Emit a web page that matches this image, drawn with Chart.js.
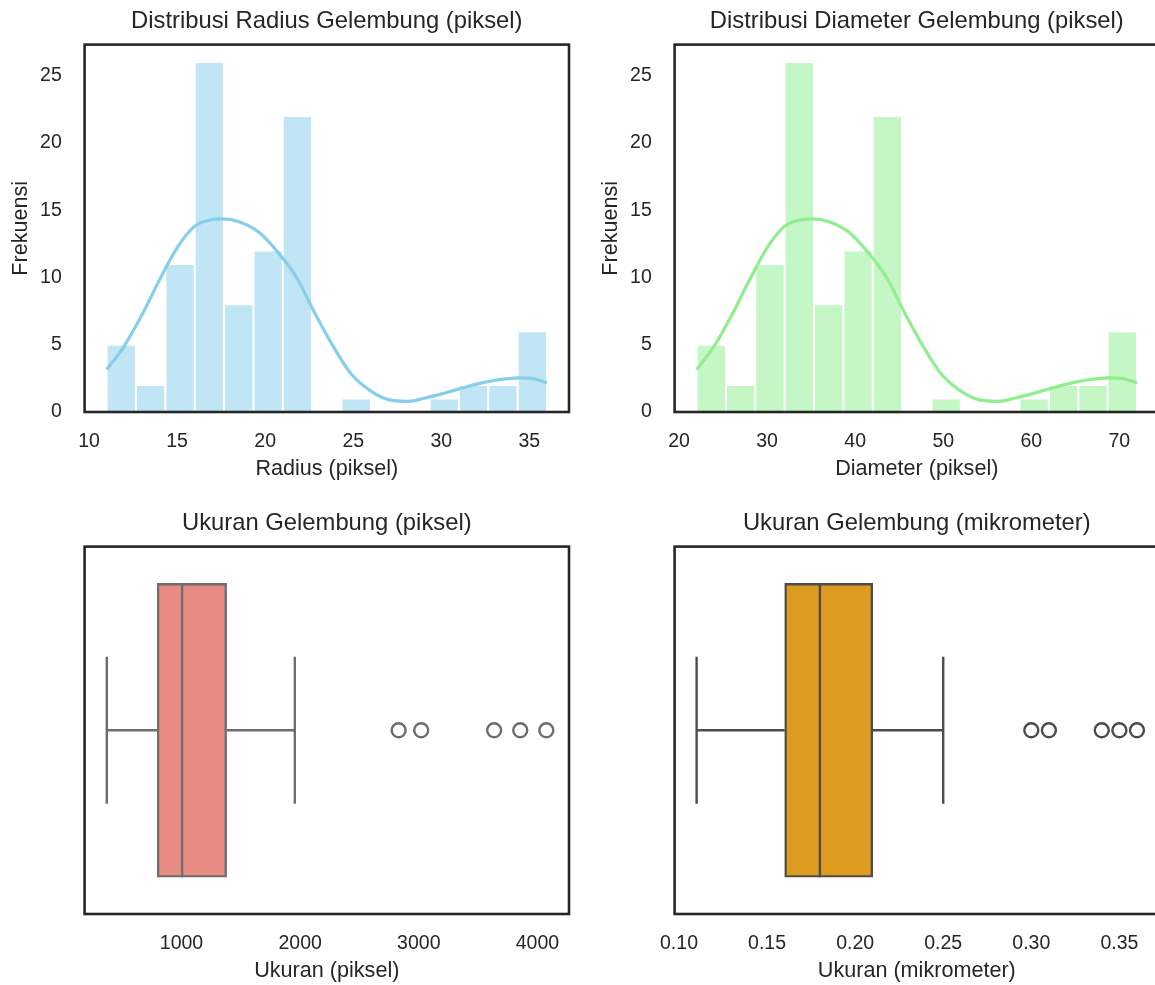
<!DOCTYPE html>
<html><head><meta charset="utf-8">
<script src="https://cdn.jsdelivr.net/npm/chart.js@4.4.1/dist/chart.umd.min.js"></script>
<style>
html,body{margin:0;padding:0;background:#fff;overflow:hidden;width:1155px;height:985px;position:relative;}
canvas{position:absolute;width:580px;height:490px;}
</style></head><body>
<canvas id="c1" width="580" height="490" style="left:0px;top:0px"></canvas>
<canvas id="c2" width="580" height="490" style="left:590px;top:0px"></canvas>
<canvas id="c3" width="580" height="490" style="left:0px;top:502px"></canvas>
<canvas id="c4" width="580" height="490" style="left:590px;top:502px"></canvas>
<script>
// ---------- DATA ----------
const RADIUS_BIN_CENTERS = [11.83, 13.5, 15.17, 16.83, 18.5, 20.17, 21.83, 23.5, 25.17, 26.83, 28.5, 30.17, 31.83, 33.5, 35.17];
const RADIUS_COUNTS      = [5, 2, 11, 26, 8, 12, 22, 0, 1, 0, 0, 1, 2, 2, 6];
const RADIUS_KDE_X = [11.0, 12.0, 13.0, 14.0, 15.0, 16.0, 17.0, 17.6, 18.6, 19.7, 20.7, 21.8, 22.8, 23.9, 24.9, 26.0, 27.0, 28.1, 29.1, 30.2, 31.2, 32.3, 33.3, 34.4, 35.2, 36.0];
const RADIUS_KDE_Y = [3.15, 4.9, 7.2, 9.8, 12.2, 13.8, 14.3, 14.35, 14.1, 13.3, 11.9, 9.96, 7.4, 4.8, 2.8, 1.55, 0.92, 0.79, 1.04, 1.41, 1.78, 2.16, 2.4, 2.53, 2.48, 2.16];
const RADIUS_TICKS = [10, 15, 20, 25, 30, 35];

const DIAM_BIN_CENTERS = [23.67, 27.0, 30.33, 33.67, 37.0, 40.33, 43.67, 47.0, 50.33, 53.67, 57.0, 60.33, 63.67, 67.0, 70.33];
const DIAM_COUNTS      = [5, 2, 11, 26, 8, 12, 22, 0, 1, 0, 0, 1, 2, 2, 6];
const DIAM_KDE_X = [22.0, 24.0, 26.0, 28.0, 30.0, 32.0, 34.0, 35.2, 37.2, 39.4, 41.4, 43.6, 45.6, 47.8, 49.8, 52.0, 54.0, 56.2, 58.2, 60.4, 62.4, 64.6, 66.6, 68.8, 70.4, 72.0];
const DIAM_KDE_Y = [3.15, 4.9, 7.2, 9.8, 12.2, 13.8, 14.3, 14.35, 14.1, 13.3, 11.9, 9.96, 7.4, 4.8, 2.8, 1.55, 0.92, 0.79, 1.04, 1.41, 1.78, 2.16, 2.4, 2.53, 2.48, 2.16];
const DIAM_TICKS = [20, 30, 40, 50, 60, 70];

const FREQ_TICKS = [0, 5, 10, 15, 20, 25];

// box stats: [lower whisker, q1, median, q3, upper whisker]
const PIXEL_STATS    = [370, 795, 1005, 1380, 1955];
const PIXEL_OUTLIERS = [2830, 3020, 3635, 3855, 4075];
const PIXEL_TICKS    = [1000, 2000, 3000, 4000];

const MICRO_STATS    = [0.11, 0.16, 0.18, 0.21, 0.25];
const MICRO_OUTLIERS = [0.30, 0.31, 0.34, 0.35, 0.36];
const MICRO_TICKS    = [0.10, 0.15, 0.20, 0.25, 0.30, 0.35];

// ---------- LAYOUT / STYLE ----------
const CW = 580, CH = 490;
const AREA = {left: 84.6, top: 44.6, right: 569, bottom: 412};
const TEXT = '#262626';
const TITLE_SIZE = 23.8, LABEL_SIZE = 21.6, TICK_SIZE = 19.5;

Chart.defaults.font.family = "'Liberation Sans', Arial, sans-serif";
Chart.defaults.color = TEXT;
Chart.defaults.animation = false;

const framePlugin = {
  id: 'frame',
  afterDatasetsDraw(chart) {
    const {ctx, chartArea: a} = chart;
    ctx.save();
    ctx.strokeStyle = TEXT;
    ctx.lineWidth = 2.6;
    ctx.strokeRect(a.left, a.top, a.right - a.left, a.bottom - a.top);
    ctx.restore();
  }
};

function xScale(min, max, ticks, title, fmt) {
  return {
    type: 'linear', min, max, offset: false,
    afterFit: s => { s.height = CH - AREA.bottom; },
    afterBuildTicks: s => { s.ticks = ticks.map(v => ({value: v})); },
    ticks: {font: {size: TICK_SIZE}, padding: 17.5, color: TEXT, maxRotation: 0,
            callback: v => fmt(v)},
    grid: {display: false, drawTicks: false, offset: false},
    border: {display: false},
    title: {display: true, text: title, font: {size: LABEL_SIZE}, color: TEXT, padding: {top: 0, bottom: 7.6}}
  };
}

function baseOptions(titleText, scales) {
  return {
    responsive: false,
    animation: false,
    layout: {padding: {left: 0, right: CW - AREA.right, top: 0, bottom: 0}},
    plugins: {
      legend: {display: false},
      tooltip: {enabled: false},
      title: {display: true, text: titleText, color: TEXT, fullSize: false,
              font: {size: TITLE_SIZE, weight: 'normal'},
              padding: {top: 7.0, bottom: AREA.top - 7.0 - TITLE_SIZE * 1.2}}
    },
    scales
  };
}

function histChart(id, titleText, centers, counts, kx, ky, xmin, xmax, xticks, xtitle, barColor, lineColor) {
  new Chart(document.getElementById(id), {
    type: 'bar',
    data: {
      datasets: [
        {
          type: 'line',
          data: kx.map((x, i) => ({x, y: ky[i]})),
          borderColor: lineColor, borderWidth: 3.2,
          pointRadius: 0, cubicInterpolationMode: 'monotone',
          fill: false, order: 0
        },
        {
          type: 'bar',
          data: centers.map((x, i) => ({x, y: counts[i]})),
          backgroundColor: barColor,
          borderColor: '#ffffff', borderWidth: 1.3, borderSkipped: 'start',
          barPercentage: 1, categoryPercentage: 1, grouped: false, order: 1
        }
      ]
    },
    options: baseOptions(titleText, {
      x: xScale(xmin, xmax, xticks, xtitle, v => String(v)),
      y: {
        type: 'linear', min: 0, max: 27.3,
        afterFit: s => { s.width = AREA.left; },
        afterBuildTicks: s => { s.ticks = FREQ_TICKS.map(v => ({value: v})); },
        ticks: {font: {size: TICK_SIZE}, padding: 22.8, color: TEXT},
        grid: {display: false, drawTicks: false},
        border: {display: false},
        title: {display: true, text: 'Frekuensi', font: {size: LABEL_SIZE}, color: TEXT, padding: {top: 7.6, bottom: 0}}
      }
    }),
    plugins: [framePlugin]
  });
}

function boxChart(id, titleText, stats, outliers, xmin, xmax, xticks, xtitle, fmt, fill, line) {
  const [lo, q1, med, q3, hi] = stats;
  const boxThick = (AREA.bottom - AREA.top) * 0.8;
  const lineDs = (pts) => ({
    type: 'line', data: pts, borderColor: line, borderWidth: 2.4,
    pointRadius: 0, fill: false, tension: 0, order: 1
  });
  new Chart(document.getElementById(id), {
    type: 'bar',
    data: {
      datasets: [
        {
          type: 'bar', indexAxis: 'y',
          data: [{y: 0, x: [q1, q3]}],
          backgroundColor: fill, borderColor: line, borderWidth: 2.4,
          borderSkipped: false, barThickness: boxThick, order: 2
        },
        lineDs([{x: med, y: -0.4}, {x: med, y: 0.4}]),
        lineDs([{x: lo, y: 0}, {x: q1, y: 0}]),
        lineDs([{x: q3, y: 0}, {x: hi, y: 0}]),
        lineDs([{x: lo, y: -0.2}, {x: lo, y: 0.2}]),
        lineDs([{x: hi, y: -0.2}, {x: hi, y: 0.2}]),
        {
          type: 'scatter',
          data: outliers.map(x => ({x, y: 0})),
          pointRadius: 7, pointBorderWidth: 2.4,
          pointBorderColor: line, pointBackgroundColor: 'rgba(0,0,0,0)',
          showLine: false, order: 0
        }
      ]
    },
    options: baseOptions(titleText, {
      x: xScale(xmin, xmax, xticks, xtitle, fmt),
      y: {
        type: 'linear', min: -0.5, max: 0.5, reverse: true, offset: false,
        afterFit: s => { s.width = AREA.left; },
        ticks: {display: false},
        grid: {display: false, drawTicks: false, offset: false},
        border: {display: false}
      }
    }),
    plugins: [framePlugin]
  });
}

histChart('c1', 'Distribusi Radius Gelembung (piksel)', RADIUS_BIN_CENTERS, RADIUS_COUNTS,
  RADIUS_KDE_X, RADIUS_KDE_Y, 9.75, 37.25, RADIUS_TICKS, 'Radius (piksel)',
  'rgba(135,206,235,0.52)', '#87ceeb');
histChart('c2', 'Distribusi Diameter Gelembung (piksel)', DIAM_BIN_CENTERS, DIAM_COUNTS,
  DIAM_KDE_X, DIAM_KDE_Y, 19.5, 74.5, DIAM_TICKS, 'Diameter (piksel)',
  'rgba(144,238,144,0.52)', '#90ee90');
boxChart('c3', 'Ukuran Gelembung (piksel)', PIXEL_STATS, PIXEL_OUTLIERS, 183, 4266,
  PIXEL_TICKS, 'Ukuran (piksel)', v => String(v), '#e88b82', '#6d6d6d');
boxChart('c4', 'Ukuran Gelembung (mikrometer)', MICRO_STATS, MICRO_OUTLIERS, 0.0975, 0.3725,
  MICRO_TICKS, 'Ukuran (mikrometer)', v => v.toFixed(2), '#dd9b20', '#4c4c4c');
</script>
</body></html>
